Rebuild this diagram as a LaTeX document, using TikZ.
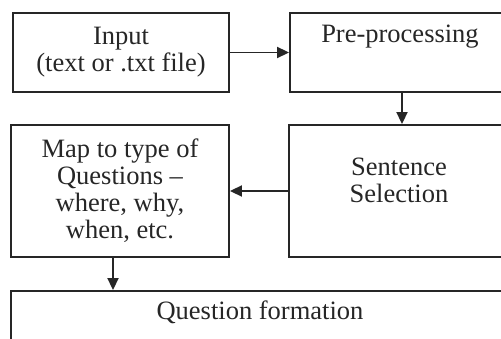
\documentclass[tikz,border=0pt]{standalone}
\usepackage{fontspec}
\setmainfont{Liberation Serif}
\usetikzlibrary{arrows.meta,positioning}
\newcommand{\boxcolor}{black!85}
\newcommand{\thickness}{1.9pt}

\tikzset{
  stage/.style={draw=\boxcolor, line width=\thickness, rectangle, inner sep=0pt},
  txt/.style={align=center, inner sep=0pt, font=\fontsize{26.5}{27}\selectfont, text=black!85},
  flow/.style={-{Triangle[length=12pt,width=11pt]}, line width=\thickness, draw=\boxcolor}
}

\begin{document}
\begin{tikzpicture}[x=1pt,y=-1pt]
\useasboundingbox (0,0) rectangle (501,339);
\clip (0,0) rectangle (501,339);
% boxes
\node[stage, minimum width=216pt, minimum height=79pt] (1) at (121,52.5) {};
\node[stage, minimum width=220pt, minimum height=79pt] (2) at (400,52.5) {};
\node[stage, minimum width=220pt, minimum height=132pt] (3) at (399,191) {};
\node[stage, minimum width=218pt, minimum height=132pt] (4) at (120,191) {};
\node[stage, minimum width=498pt, minimum height=56pt] (5) at (260,319) {};
% texts
\node[txt] (1t) at (1) {Input\\(text or .txt file)};
\node[txt, anchor=base] (2t) at ([yshift=-30pt]2.north) {Pre-processing};
\node[txt] (3t) at (399,180) {Sentence\\Selection};
\node[txt] (4t) at (4) {Map to type of\\Questions --\\where, why,\\when, etc.};
\node[txt, anchor=base] (5t) at ([yshift=-29pt]5.north) {Question formation};
% arrows
\draw[flow] (1.east) -- (2.west);
\draw[flow] ([xshift=2pt]2.south) -- ([xshift=2pt]2.south |- 3.north);
\draw[flow] (3.west) -- (4.east);
\draw[flow] ([xshift=-7pt]4.south) -- ([xshift=-7pt]4.south |- 5.north);
\end{tikzpicture}
\end{document}
